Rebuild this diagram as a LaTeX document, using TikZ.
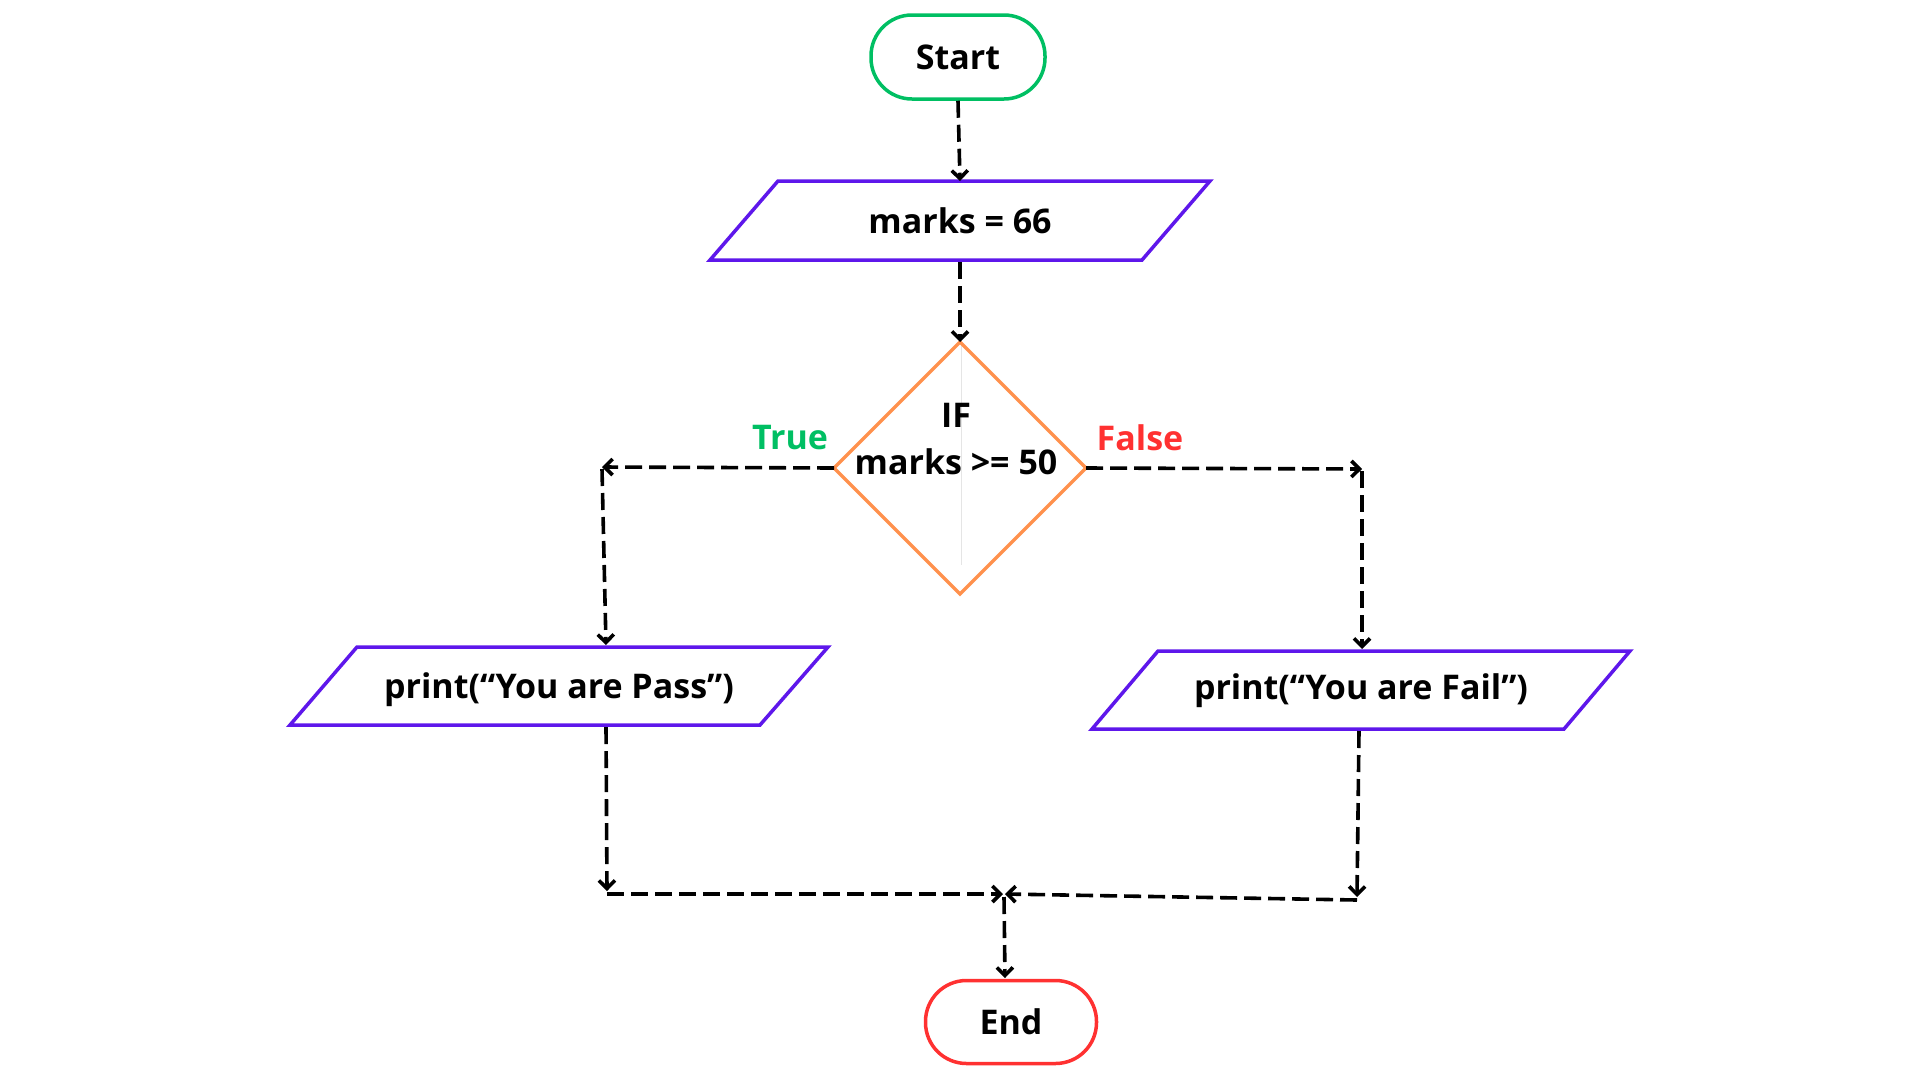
\documentclass[tikz,border=0pt]{standalone}
\usepackage{fontspec}
\setmainfont{Open Sans}
\usetikzlibrary{arrows.meta}
\definecolor{cgreen}{HTML}{00BF63}
\definecolor{cpurple}{HTML}{5E17EB}
\definecolor{corange}{HTML}{FF914D}
\definecolor{cred}{HTML}{FF3131}
\tikzset{
  conn/.style={line width=3.6pt, dash pattern=on 17pt off 7pt, -{Straight Barb[length=8pt,width=16pt]}},
  term/.style={line width=3.5pt, rounded corners=41pt, minimum width=174pt, minimum height=84pt, inner sep=0pt},
  shapeline/.style={line width=3.5pt, line join=miter},
  lbl/.style={font=\fontsize{34}{40}\selectfont\bfseries, inner sep=0pt},
}
\begin{document}
\begin{tikzpicture}[x=1pt,y=-1pt]
\useasboundingbox (0,0) rectangle (1920,1080);
% Start
\node[term, draw=cgreen, lbl] (start) at (958,57) {Start};
% marks = 66
\coordinate (mkTL) at (778,181); \coordinate (mkTR) at (1210,181);
\coordinate (mkBR) at (1142,260); \coordinate (mkBL) at (710,260);
\draw[shapeline, cpurple] (mkTL) -- (mkTR) -- (mkBR) -- (mkBL) -- cycle;
\node[lbl] (marks) at (960,221) {marks = 66};
\coordinate (mkT) at (960,181); \coordinate (mkB) at (960,262);
% diamond
\coordinate (dT) at (960,342); \coordinate (dL) at (834,468);
\coordinate (dR) at (1086,468); \coordinate (dB) at (960,594);
\draw[gray!20, line width=1pt] (961,346) -- (961,565);
\draw[shapeline, corange] (dT) -- (dR) -- (dB) -- (dL) -- cycle;
\node[lbl] (ifa) at (956,415) {IF};
\node[lbl] (ifb) at (956,462) {marks >= 50};
\node[lbl, text=cgreen] (true) at (790,438) {True};
\node[lbl, text=cred] (false) at (1140,438) {False};
% Pass
\coordinate (pTL) at (357,647); \coordinate (pTR) at (828,647);
\coordinate (pBR) at (760,725); \coordinate (pBL) at (290,725);
\draw[shapeline, cpurple] (pTL) -- (pTR) -- (pBR) -- (pBL) -- cycle;
\node[lbl] (pass) at (559,690) {print(“You are Pass”)};
\coordinate (pT) at (606,645); \coordinate (pB) at (606,727);
% Fail
\coordinate (fTL) at (1158,651); \coordinate (fTR) at (1630,651);
\coordinate (fBR) at (1564,729); \coordinate (fBL) at (1092,729);
\draw[shapeline, cpurple] (fTL) -- (fTR) -- (fBR) -- (fBL) -- cycle;
\node[lbl] (fail) at (1361,691) {print(“You are Fail”)};
\coordinate (fT) at (1362,649); \coordinate (fB) at (1359,731);
% End
\node[term, draw=cred, lbl, minimum width=171pt, minimum height=83pt] (end) at (1011,1022) {End};
% corner coordinates
\coordinate (tc) at (602,467);
\coordinate (tc2) at (602,469);
\coordinate (fc) at (1362,469);
\coordinate (fc2) at (1362,471);
\coordinate (pc) at (607,891);
\coordinate (pc2) at (607,894);
\coordinate (fcb) at (1357,897);
\coordinate (fcb2) at (1357,900);
\coordinate (jn) at (1003,894);
\coordinate (jn2) at (1005,894);
\coordinate (jn3) at (1004,897);
\coordinate (endtop) at (1005,978);
% connectors
\draw[conn] (start.south) -- (mkT);
\draw[conn] (mkB) -- (dT);
\draw[conn] (dL) -- (tc);
\draw[conn] (tc2) -- (pT);
\draw[conn] (dR) -- (fc);
\draw[conn] (fc2) -- (fT);
\draw[conn] (pB) -- (pc);
\draw[conn] (pc2) -- (jn);
\draw[conn] (fB) -- (fcb);
\draw[conn] (fcb2) -- (jn2);
\draw[conn] (jn3) -- (endtop);
\end{tikzpicture}
\end{document}
